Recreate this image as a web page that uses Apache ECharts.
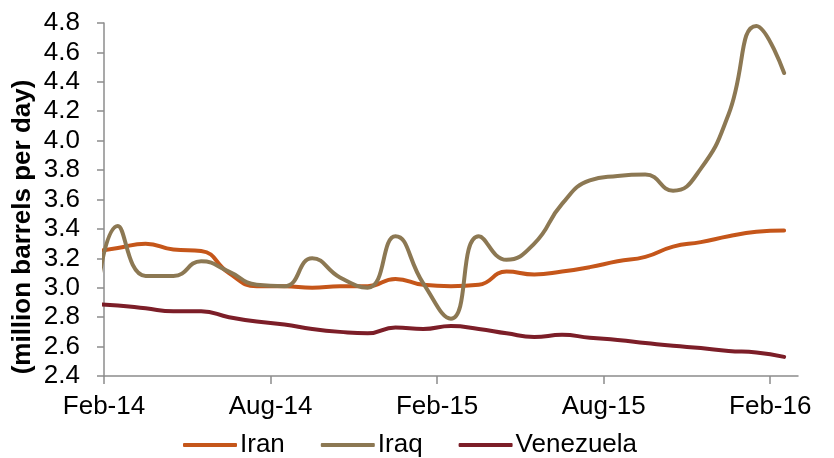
<!DOCTYPE html>
<html>
<head>
<meta charset="utf-8">
<script src="https://cdn.jsdelivr.net/npm/echarts@6/dist/echarts.min.js"></script>
<style>
  html, body { margin: 0; padding: 0; background: #fff; }
  #chart { width: 834px; height: 458px; }
</style>
</head>
<body>
<div id="chart"></div>
<script>
// Monthly crude output, million barrels per day (mid-month readings, Jan-14 .. Feb-16)
const months = ['Jan-14','Feb-14','Mar-14','Apr-14','May-14','Jun-14','Jul-14','Aug-14','Sep-14','Oct-14','Nov-14','Dec-14',
                'Jan-15','Feb-15','Mar-15','Apr-15','May-15','Jun-15','Jul-15','Aug-15','Sep-15','Oct-15','Nov-15','Dec-15',
                'Jan-16','Feb-16'];
const iran = [3.24, 3.27, 3.30, 3.26, 3.25, 3.10, 3.01, 3.01, 3.00, 3.01, 3.01, 3.06,
              3.02, 3.01, 3.02, 3.11, 3.09, 3.11, 3.14, 3.18, 3.21, 3.28, 3.31, 3.35,
              3.38, 3.39];
const iraq = [2.45, 3.42, 3.08, 3.08, 3.18, 3.11, 3.02, 3.01, 3.20, 3.07, 3.00, 3.35,
              3.03, 2.79, 3.35, 3.19, 3.30, 3.57, 3.73, 3.76, 3.77, 3.66, 3.81, 4.18,
              4.78, 4.46];
const venezuela = [2.89, 2.88, 2.86, 2.84, 2.84, 2.80, 2.77, 2.75, 2.72, 2.70, 2.69, 2.73,
                   2.72, 2.74, 2.72, 2.69, 2.665, 2.68, 2.66, 2.645, 2.625, 2.605, 2.59, 2.57,
                   2.56, 2.53];
// Axis ticks every six months starting Feb-14 (month offsets from 1 Feb 2014)
const tickLabels = ['Feb-14', 'Aug-14', 'Feb-15', 'Aug-15', 'Feb-16'];
const tickMonths = [0, 6, 12, 18, 24];

// Each reading sits mid-month; Jan-14 is offset -1 and falls left of the axis start.
function toPoints(values) {
  return values.map((v, i) => [i - 1 + 0.5, v]);
}

const FONT = '"Liberation Sans", Arial, sans-serif';
const AXIS_COLOR = '#8c8c8c';

const chart = echarts.init(document.getElementById('chart'), null, { renderer: 'canvas' });

const seriesDefs = [
  { name: 'Iran', data: iran, color: '#c5561a' },
  { name: 'Iraq', data: iraq, color: '#8c7853' },
  { name: 'Venezuela', data: venezuela, color: '#7c1e28' }
];

chart.setOption({
  animation: false,
  backgroundColor: '#ffffff',
  grid: { left: 104, right: 36, top: 23, bottom: 82, containLabel: false },
  xAxis: {
    type: 'value',
    min: 0,
    max: 25,
    interval: 6,
    splitLine: { show: false },
    axisLine: { lineStyle: { color: AXIS_COLOR, width: 1.5 } },
    axisTick: { show: true, length: 8, customValues: tickMonths, lineStyle: { color: AXIS_COLOR, width: 1.5 } },
    axisLabel: {
      customValues: tickMonths,
      margin: 18,
      color: '#000',
      fontFamily: FONT,
      fontSize: 26,
      formatter: v => tickLabels[tickMonths.indexOf(v)] || ''
    }
  },
  yAxis: {
    type: 'value',
    min: 2.4,
    max: 4.8,
    interval: 0.2,
    splitLine: { show: false },
    axisLine: { show: true, lineStyle: { color: AXIS_COLOR, width: 1.5 } },
    axisTick: { show: true, length: 7, lineStyle: { color: AXIS_COLOR, width: 1.5 } },
    axisLabel: {
      margin: 24,
      color: '#000',
      fontFamily: FONT,
      fontSize: 26,
      formatter: v => v.toFixed(1)
    }
  },
  legend: {
    left: 178,
    top: 427,
    itemWidth: 54,
    itemHeight: 4,
    itemGap: 36,
    icon: 'roundRect',
    textStyle: { color: '#000', fontFamily: FONT, fontSize: 26, padding: [0, 0, 0, -2] },
    data: seriesDefs.map(s => s.name)
  },
  graphic: [{
    type: 'text',
    x: 23,
    y: 227,
    rotation: Math.PI / 2,
    style: {
      text: '(million barrels per day)',
      fill: '#000',
      font: 'bold 26px "Liberation Sans", Arial, sans-serif',
      textAlign: 'center',
      textVerticalAlign: 'middle'
    }
  }],
  series: seriesDefs.map(s => ({
    name: s.name,
    type: 'line',
    data: toPoints(s.data),
    smooth: 0.5,
    symbol: 'none',
    clip: true,
    lineStyle: { color: s.color, width: 4, cap: 'round', join: 'round' },
    itemStyle: { color: s.color }
  }))
});
</script>
</body>
</html>
